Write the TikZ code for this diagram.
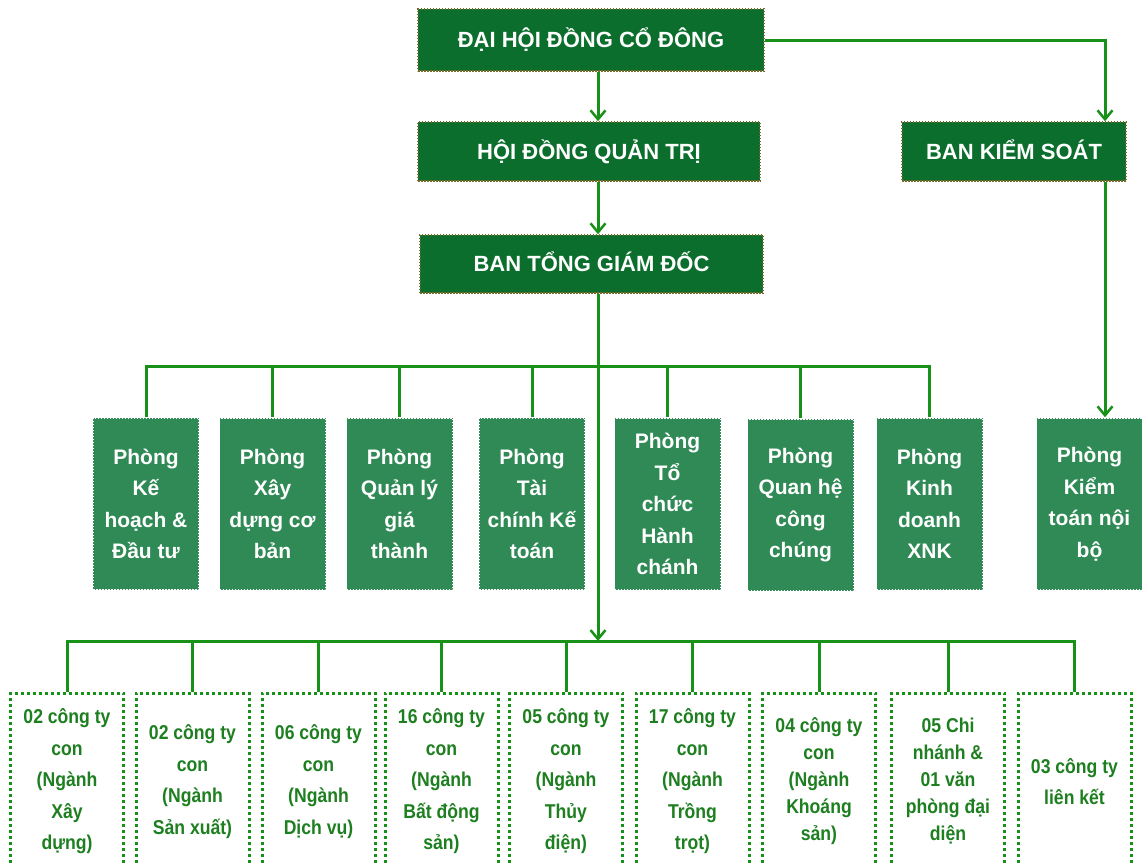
\documentclass[tikz,border=0pt]{standalone}
\usepackage{fontspec}
\setmainfont{Liberation Sans}
\newfontfamily\narrowsans[FakeStretch=0.88]{Liberation Sans}
\usetikzlibrary{arrows.meta}
\definecolor{darkbox}{HTML}{0B6E2C}
\definecolor{midbox}{HTML}{2F8A56}
\definecolor{wirecol}{HTML}{179117}
\definecolor{subtext}{HTML}{1D7F1F}
\definecolor{edgecol}{HTML}{7A6A2A}

\begin{document}
\begin{tikzpicture}[x=1bp,y=-1bp,
		wire/.style={draw=wirecol,line width=3bp},
		arr/.style={wire,-{Straight Barb[length=9bp,width=15bp,line width=2.5bp]}},
		headbox/.style={rectangle,fill=darkbox,draw=edgecol,dash pattern=on 1.5bp off 1.5bp,line width=1.5bp,
			text=white,font=\fontsize{22bp}{26bp}\selectfont\bfseries,text height=15.75bp,text depth=0bp,inner sep=0pt},
		deptbox/.style={rectangle,fill=midbox,draw=white,dash pattern=on 1.5bp off 1.5bp,line width=1.5bp,
			text=white,align=center,font=\fontsize{21bp}{31.5bp}\selectfont\bfseries,
			minimum width=106bp,minimum height=172bp,inner sep=0pt},
		subbox/.style={rectangle,fill=white,draw=wirecol,dash pattern=on 3bp off 3bp,line width=3bp,
			text=subtext,align=center,font=\narrowsans\fontsize{20bp}{31.5bp}\selectfont\bfseries,
			minimum width=113bp,minimum height=177bp,inner sep=0pt},
		tight/.style={font=\narrowsans\fontsize{20bp}{27bp}\selectfont\bfseries}]
	\useasboundingbox (0,0) rectangle (1142,865);

	% top of the chart
	\node[headbox,minimum width=346bp,minimum height=62bp] (dhdcd) at (591,40) {ĐẠI HỘI ĐỒNG CỔ ĐÔNG};
	\node[headbox,minimum width=342bp,minimum height=59bp] (hdqt) at (589,151.5) {HỘI ĐỒNG QUẢN TRỊ};
	\node[headbox,minimum width=224bp,minimum height=59bp] (bks) at (1014,151.5) {BAN KIỂM SOÁT};
	\node[headbox,minimum width=343bp,minimum height=58bp] (btgd) at (591.5,264) {BAN TỔNG GIÁM ĐỐC};

	% departments
	\node[deptbox] (kh) at (146,504) {Phòng\\Kế\\hoạch \&\\Đầu tư};
	\node[deptbox] (xd) at (272.5,504) {Phòng\\Xây\\dựng cơ\\bản};
	\node[deptbox] (ql) at (399.5,504) {Phòng\\Quản lý\\giá\\thành};
	\node[deptbox] (tc) at (532,504) {Phòng\\Tài\\chính Kế\\toán};
	\node[deptbox] (hc) at (667.5,504) {Phòng\\Tổ\\chức\\Hành\\chánh};
	\node[deptbox] (qh) at (800.5,505) {Phòng\\Quan hệ\\công\\chúng};
	\node[deptbox] (xnk) at (929.5,504) {Phòng\\Kinh\\doanh\\XNK};
	\node[deptbox] (ktnb) at (1089.5,504) {Phòng\\Kiểm\\toán nội\\bộ};

	% subsidiaries
	\node[subbox] (xaydung) at (67,781.5) {02 công ty\\con\\(Ngành\\Xây\\dựng)};
	\node[subbox] (sanxuat) at (192.5,781.5) {02 công ty\\con\\(Ngành\\Sản xuất)};
	\node[subbox] (dichvu) at (318.5,781.5) {06 công ty\\con\\(Ngành\\Dịch vụ)};
	\node[subbox] (batdongsan) at (441.5,781.5) {16 công ty\\con\\(Ngành\\Bất động\\sản)};
	\node[subbox] (thuydien) at (566,781.5) {05 công ty\\con\\(Ngành\\Thủy\\điện)};
	\node[subbox] (trongtrot) at (692.5,781.5) {17 công ty\\con\\(Ngành\\Trồng\\trọt)};
	\node[subbox,tight] (khoangsan) at (819,781.5) {04 công ty\\con\\(Ngành\\Khoáng\\sản)};
	\node[subbox,tight] (chinhanh) at (948,781.5) {05 Chi\\nhánh \&\\01 văn\\phòng đại\\diện};
	\node[subbox] (lienket) at (1074.5,781.5) {03 công ty\\liên kết};

	\coordinate (tk) at (598,0);
	\coordinate (rk) at (1105,0);
	\coordinate (bus1) at (0,366);
	\coordinate (bus2) at (0,641);

	\draw[arr] (dhdcd.south -| tk) -- (hdqt.north -| tk);
	\draw[arr] (hdqt.south -| tk) -- (btgd.north -| tk);
	\draw[arr] (dhdcd.east) -| (bks.north -| rk);
	\draw[arr] (bks.south -| rk) -- (ktnb.north -| rk);

	\draw[wire] (kh.north) |- (bus1 -| xnk.north) -- (xnk.north);
	\foreach \d in {xd,ql,tc,hc,qh}
		\draw[wire] (\d.north) -- (\d.north |- bus1);

	\draw[wire] (xaydung.north) |- (bus2 -| lienket.north) -- (lienket.north);
	\foreach \d in {sanxuat,dichvu,batdongsan,thuydien,trongtrot,khoangsan,chinhanh}
		\draw[wire] (\d.north) -- (\d.north |- bus2);
	\draw[arr] (btgd.south -| tk) -- (bus2 -| tk);
\end{tikzpicture}
\end{document}
